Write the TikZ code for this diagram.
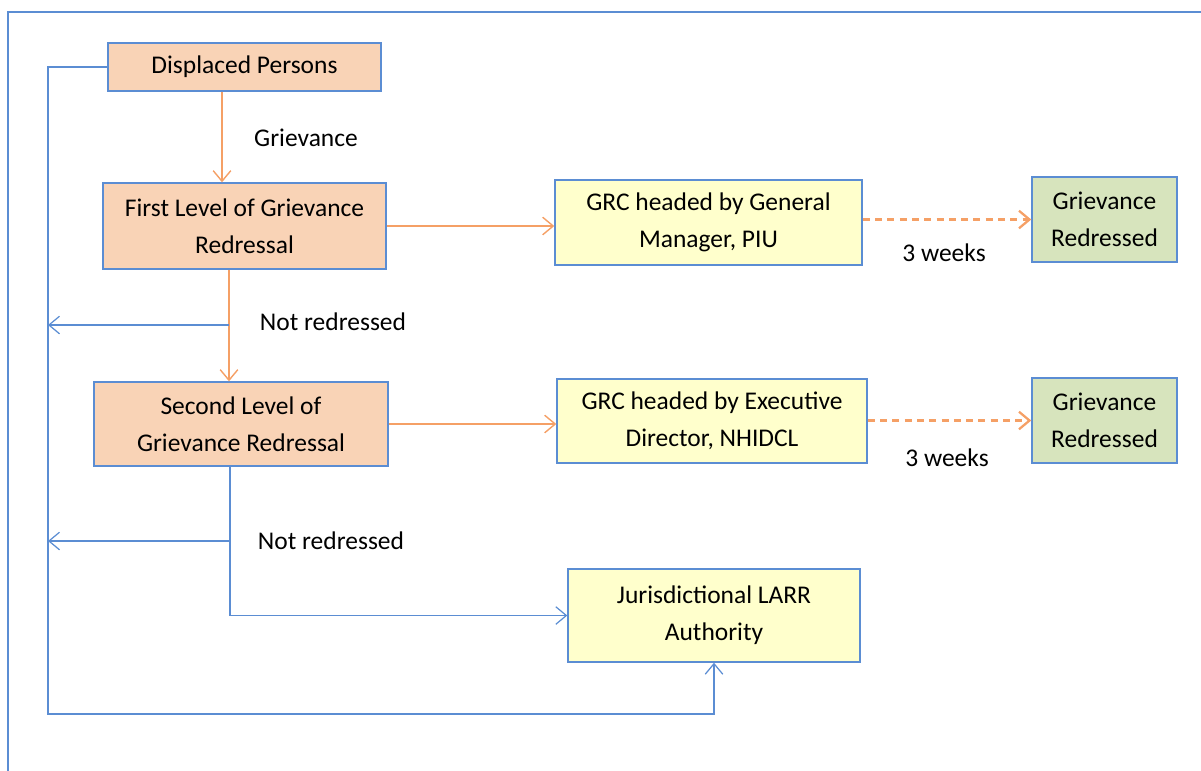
\documentclass[tikz,border=0pt]{standalone}
\usepackage{fontspec}
\setmainfont{Carlito}
\usetikzlibrary{arrows.meta}

\definecolor{boxblue}{HTML}{5B8DD3}
\definecolor{lineorange}{HTML}{F5A066}
\definecolor{fillorange}{HTML}{F9D3B6}
\definecolor{fillyellow}{HTML}{FFFFCC}
\definecolor{fillgreen}{HTML}{D7E4BD}

\begin{document}
\begin{tikzpicture}[
	font=\fontsize{14.5}{21}\selectfont,
	box/.style={draw=boxblue, line width=0.8pt, align=center, inner sep=0pt},
	levelbox/.style={box, fill=fillorange},
	grcbox/.style={box, fill=fillyellow},
	donebox/.style={box, fill=fillgreen},
	orangearrow/.style={draw=lineorange, line width=0.8pt, -{Straight Barb[length=6pt,width=10pt]}},
	bluearrow/.style={draw=boxblue, line width=0.7pt, -{Straight Barb[length=6pt,width=10pt]}},
	weekarrow/.style={orangearrow, line width=1.3pt, dash pattern=on 4pt off 3pt}
	]
	
	\useasboundingbox (0,0) rectangle (24.02,-15.4);
	
	% Marco
	\draw[boxblue, line width=1.5pt] (0.16,-15.5) -- (0.16,-0.24) -- (24.2,-0.24);
	
	% Niveles
	\node[levelbox, minimum width=5.46cm, minimum height=0.96cm] (displaced) at (4.89,-1.34) {Displaced Persons};
	
	\node[levelbox, minimum width=5.66cm, minimum height=1.72cm] (first) at (4.89,-4.52) {First Level of Grievance\\ Redressal};
	
	\node[levelbox, minimum width=5.88cm, minimum height=1.68cm] (second) at (4.82,-8.48) {Second Level of\\ Grievance Redressal};
	
	% Comites
	\node[grcbox, minimum width=6.14cm, minimum height=1.7cm] (grcgm) at (14.17,-4.45) {GRC headed by General\\ Manager, PIU};
	
	\node[grcbox, minimum width=6.2cm, minimum height=1.68cm] (grced) at (14.24,-8.42) {GRC headed by Executive\\ Director, NHIDCL};
	
	\node[grcbox, minimum width=5.84cm, minimum height=1.86cm] (larr) at (14.28,-12.31) {Jurisdictional LARR\\ Authority};
	
	% Resultado
	\node[donebox, minimum width=2.9cm, minimum height=1.7cm] (doneone) at (22.09,-4.39) {Grievance\\ Redressed};
	
	\node[donebox, minimum width=2.9cm, minimum height=1.7cm] (donetwo) at (22.09,-8.41) {Grievance\\ Redressed};
	
	% Puntos auxiliares
	\coordinate (colone) at (4.44,0);
	\coordinate (coltwo) at (4.58,0);
	\coordinate (colthree) at (4.6,0);
	\coordinate (leftrail) at (0.96,0);
	\coordinate (forkone) at (4.58,-6.5);
	\coordinate (forktwo) at (4.6,-10.82);
	\coordinate (railbottom) at (0.96,-14.28);
	
	% Flechas
	\draw[orangearrow] (displaced.south -| colone) -- (first.north -| colone);
	\draw[orangearrow] (first.south -| coltwo) -- (second.north -| coltwo);
	\draw[orangearrow] (first.east) -- (first.east -| grcgm.west);
	\draw[orangearrow] (second.east) -- (second.east -| grced.west);
	\draw[weekarrow] (grcgm.east |- doneone.west) -- (doneone.west);
	\draw[weekarrow] (grced.east |- donetwo.west) -- (donetwo.west);
	
	\draw[bluearrow] (forkone) -- (forkone -| leftrail);
	\draw[bluearrow] (forktwo) -- (forktwo -| leftrail);
	\draw[bluearrow] (second.south -| colthree) |- (larr.west);
	\draw[bluearrow] (displaced.west) -| (railbottom) -| (larr.south);
	
	% Etiquetas
	\node (grievance) at (6.12,-2.76) {Grievance};
	\node (notone) at (6.66,-6.44) {Not redressed};
	\node (nottwo) at (6.62,-10.82) {Not redressed};
	\node (weeksone) at (18.88,-5.06) {3 weeks};
	\node (weekstwo) at (18.94,-9.16) {3 weeks};
	
\end{tikzpicture}
\end{document}
